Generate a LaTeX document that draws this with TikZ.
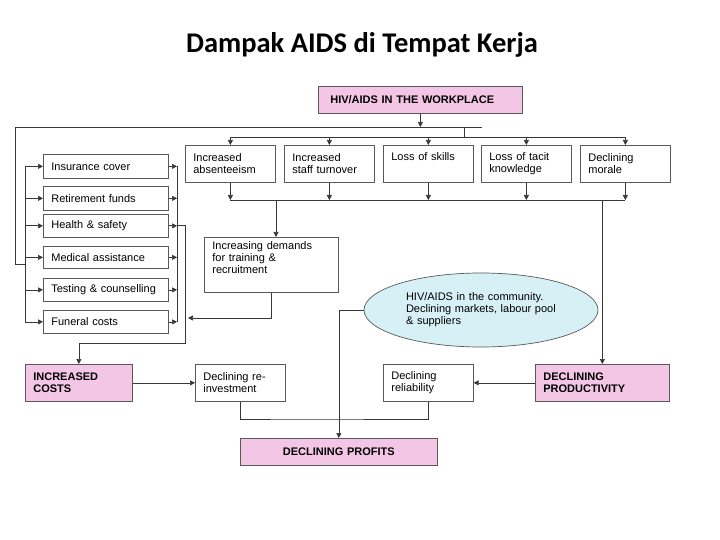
\documentclass[tikz,border=0pt]{standalone}
\usepackage{fontspec}
\setmainfont{Liberation Sans}
\newfontfamily\titlefont{Carlito}
\usetikzlibrary{positioning,arrows.meta,calc,shapes.geometric}
\definecolor{pinkbox}{RGB}{244,198,230}
\definecolor{cloud}{RGB}{214,240,246}
\definecolor{wire}{RGB}{55,55,55}

\begin{document}
\begin{tikzpicture}[
  x=1pt,y=-1pt,
  >={Triangle[length=5pt,width=5pt]},
  every node/.style={font=\fontsize{11}{12}\selectfont},
  box/.style={draw=black!65,fill=white,anchor=north west,align=left,
              inner xsep=8pt,inner ysep=2pt,line width=0.7pt},
  cost/.style={box,minimum width=125,minimum height=24,text width=109},
  effect/.style={box,minimum width=90,minimum height=37,text width=74},
  hot/.style={box,fill=pinkbox,font=\fontsize{11}{12}\selectfont\bfseries},
  link/.style={draw=wire,line width=0.7pt}
]
\useasboundingbox (0,0) rectangle (720,540);
\node[font=\titlefont\fontsize{28.5}{32}\selectfont\bfseries] (title) at (362,45)
  {Dampak AIDS di Tempat Kerja};
\node[hot,minimum width=204,minimum height=27,text width=180,inner xsep=12pt]
  (work) at (318,86) {HIV/AIDS IN THE WORKPLACE};
% workplace effects
\node[effect] (abs) at (185,145) {Increased\\absenteeism};
\node[effect] (turn) at (284,145) {Increased\\staff turnover};
\node[effect] (skills) at (383,145) {Loss of skills\\\strut};
\node[effect] (tacit) at (481,145) {Loss of tacit\\knowledge};
\node[effect] (morale) at (580,145) {Declining\\morale};
% cost items
\node[cost] (ins) at (43,154) {Insurance cover};
\node[cost] (ret) at (43,186) {Retirement funds};
\node[cost,minimum height=23] (health) at (43,214) {Health \& safety};
\node[cost,minimum height=22] (med) at (43,246) {Medical assistance};
\node[cost,minimum height=23] (test) at (43,278) {Testing \& counselling};
\node[cost,minimum height=23] (fun) at (43,310) {Funeral costs};
\node[box,minimum width=134,minimum height=55,text width=118,inner ysep=1pt]
  (demand) at (204,237) {Increasing demands\\for training \&\\recruitment\\\strut};
\node[ellipse,draw=black!65,fill=cloud,line width=0.7pt,minimum width=234,
      minimum height=74,text width=150,align=left,inner sep=0pt]
  (comm) at (481,310) {HIV/AIDS in the community.\\Declining markets, labour pool\\\& suppliers};
% outcomes
\node[hot,minimum width=107,minimum height=37,text width=91] (costs) at (25,364)
  {INCREASED\\COSTS};
\node[effect,minimum width=89] (reinv) at (195,364) {Declining re-\\investment};
\node[effect] (rel) at (383,364) {Declining\\reliability};
\node[hot,minimum width=134,minimum height=37,text width=118] (prod) at (535,364)
  {DECLINING\\PRODUCTIVITY};
\node[hot,minimum width=197,minimum height=27,text width=181,align=center]
  (profits) at (240,438) {DECLINING PROFITS};

\coordinate (rimL) at (15,127);
\coordinate (rimR) at (482,127);
\coordinate (rimJ) at (464,127);
\coordinate (busT) at (464,137);
\coordinate (busB) at (276,200);
\coordinate (feedL) at (25,264);
\coordinate (busX) at (177,0);
\coordinate (drop) at (185,343);
\coordinate (intake) at (188,318);
\coordinate (sag) at (300,419);

\draw[link,->] (work.south) -- (work.south |- rimJ);
\draw[link] (rimL) -- (rimR);
\draw[link] (rimJ) -- (busT);
\draw[link] (abs.north |- busT) -- (morale.north |- busT);
\draw[link] (abs.south |- busB) -- (morale.south |- busB);
\foreach \n in {abs,turn,skills,tacit,morale} {
  \draw[link,->] (\n.north |- busT) -- (\n.north);
  \draw[link,->] (\n.south) -- (\n.south |- busB);
}
\draw[link,->] (busB) -- (busB |- demand.north);
\draw[link,->] (prod.north |- busB) -- (prod.north);
% cost items
\draw[link] (rimL) |- (feedL);
\draw[link] (feedL |- ins) -- (feedL |- fun);
\draw[link] (busX |- ins) -- (busX |- fun);
\foreach \n in {ins,ret,health,med,test,fun} {
  \draw[link,->] (feedL |- \n) -- (\n.west);
  \draw[link,->] (\n.east) -- (busX |- \n);
}
\draw[link,->] (busX |- health) -| (drop) -| (costs.north);
\draw[link,->] (demand.south) |- (intake);
% outcomes
\draw[link,->] (costs) -- (reinv);
\draw[link,->] (prod) -- (rel);
\draw[link] (reinv.south) |- (sag) -| (rel.south);
\draw[link,->] (comm.west) -| (profits.north);
\end{tikzpicture}
\end{document}
